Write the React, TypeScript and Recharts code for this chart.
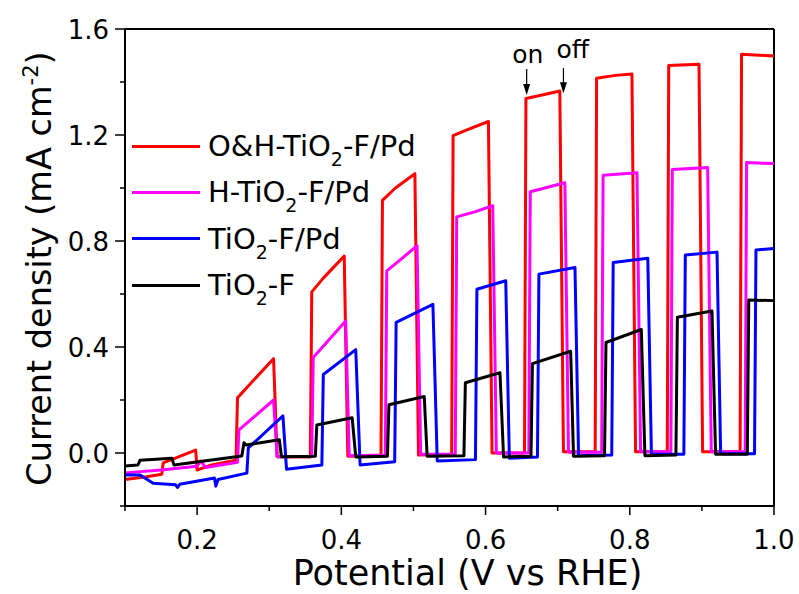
import React from 'react';
import { LineChart, Line, XAxis, YAxis, ReferenceLine, ReferenceDot } from 'recharts';

// chopped-light LSV
const ohX = [0.1, 0.13, 0.151, 0.153, 0.198, 0.2, 0.22, 0.254, 0.256, 0.27, 0.306, 0.311, 0.357, 0.359, 0.375, 0.404, 0.409, 0.455, 0.457, 0.475, 0.502, 0.507, 0.553, 0.555, 0.575, 0.604, 0.609, 0.654, 0.656, 0.68, 0.703, 0.708, 0.752, 0.754, 0.78, 0.803, 0.808, 0.852, 0.854, 0.896, 0.901, 0.953, 0.955, 1.0];
const ohY = [-0.1, -0.09, -0.08, -0.037, 0.011, -0.064, -0.045, -0.027, 0.208, 0.25, 0.356, -0.014, -0.015, 0.608, 0.66, 0.743, -0.012, -0.01, 0.953, 1.0, 1.054, -0.008, -0.005, 1.198, 1.22, 1.251, 0.0, 0.0, 1.338, 1.352, 1.366, 0.005, 0.005, 1.414, 1.425, 1.43, 0.005, 0.005, 1.462, 1.467, 0.005, 0.005, 1.505, 1.498];

const hX = [0.1, 0.15, 0.2, 0.205, 0.212, 0.256, 0.258, 0.306, 0.311, 0.359, 0.361, 0.406, 0.411, 0.461, 0.463, 0.48, 0.505, 0.51, 0.558, 0.56, 0.585, 0.61, 0.615, 0.66, 0.662, 0.71, 0.715, 0.761, 0.763, 0.81, 0.815, 0.857, 0.859, 0.908, 0.913, 0.96, 0.962, 1.0];
const hY = [-0.075, -0.064, -0.05, -0.03, -0.055, -0.035, 0.087, 0.2, -0.014, -0.012, 0.36, 0.498, -0.01, -0.008, 0.687, 0.725, 0.782, -0.005, -0.005, 0.891, 0.91, 0.933, 0.0, 0.0, 0.986, 1.02, 0.003, 0.003, 1.048, 1.058, 0.005, 0.005, 1.07, 1.077, 0.005, 0.005, 1.096, 1.092];

const pdX = [0.1, 0.121, 0.139, 0.17, 0.173, 0.176, 0.224, 0.226, 0.229, 0.269, 0.271, 0.319, 0.324, 0.373, 0.375, 0.42, 0.426, 0.474, 0.476, 0.527, 0.533, 0.586, 0.588, 0.628, 0.633, 0.672, 0.674, 0.724, 0.729, 0.775, 0.777, 0.825, 0.83, 0.875, 0.877, 0.921, 0.926, 0.973, 0.975, 1.0];
const pdY = [-0.083, -0.083, -0.114, -0.12, -0.13, -0.118, -0.094, -0.125, -0.1, -0.076, 0.019, 0.14, -0.061, -0.045, 0.296, 0.39, -0.045, -0.033, 0.493, 0.561, -0.03, -0.025, 0.618, 0.65, -0.02, -0.015, 0.675, 0.7, -0.01, -0.008, 0.719, 0.735, -0.005, -0.005, 0.747, 0.758, -0.003, -0.003, 0.766, 0.772];

const fX = [0.1, 0.118, 0.121, 0.165, 0.168, 0.262, 0.265, 0.268, 0.314, 0.317, 0.364, 0.366, 0.415, 0.42, 0.464, 0.466, 0.515, 0.519, 0.57, 0.572, 0.62, 0.625, 0.663, 0.665, 0.718, 0.722, 0.765, 0.767, 0.816, 0.821, 0.864, 0.866, 0.914, 0.919, 0.963, 0.965, 1.0];
const fY = [-0.049, -0.045, -0.027, -0.02, -0.045, -0.011, 0.039, 0.03, 0.05, -0.014, -0.012, 0.106, 0.133, -0.015, -0.012, 0.182, 0.213, -0.012, -0.01, 0.265, 0.303, -0.015, -0.012, 0.337, 0.384, -0.012, -0.01, 0.417, 0.466, -0.01, -0.008, 0.512, 0.536, -0.005, -0.005, 0.577, 0.575];

const seriesNames = ['O&H-TiO2-F/Pd', 'H-TiO2-F/Pd', 'TiO2-F/Pd', 'TiO2-F'];
const seriesColors = ['#ff0000', '#ff00ff', '#0000ff', '#000000'];

const xTicks = [0.1, 0.2, 0.3, 0.4, 0.5, 0.6, 0.7, 0.8, 0.9, 1.0];
const yTicks = [-0.2, 0, 0.2, 0.4, 0.6, 0.8, 1.0, 1.2, 1.4, 1.6];

// on / off arrows
const markLabels = ['on', 'off'];
const markX = [0.657, 0.708];
const markTop = [1.449, 1.453];
const markTip = [1.351, 1.358];
const labelX = [0.6585, 0.721];
const labelY = [1.47, 1.489];

const FONT = '"DejaVu Sans", Arial, sans-serif';

const toPoints = (xs: number[], ys: number[]) => xs.map((x, i) => ({ x, y: ys[i] }));
const allSeries = [toPoints(ohX, ohY), toPoints(hX, hY), toPoints(pdX, pdY), toPoints(fX, fY)];

const XTick = (props: any) => {
  const { x, y, payload } = props;
  const v = payload.value;
  const major = Math.round(v * 10) % 2 === 0;
  return (
    <g>
      <line x1={x} x2={x} y1={y} y2={y + (major ? 9 : 5)} stroke="#000" strokeWidth={1.5} />
      {major && (
        <text x={x} y={y + 43} textAnchor="middle" fontSize={26} fontFamily={FONT} fill="#000">
          {v.toFixed(1)}
        </text>
      )}
    </g>
  );
};

const YTick = (props: any) => {
  const { x, y, payload } = props;
  const v = payload.value;
  const major = Math.round(v * 10) % 4 === 0;
  return (
    <g>
      <line x1={x - (major ? 10 : 5)} x2={x} y1={y} y2={y} stroke="#000" strokeWidth={1.5} />
      {major && (
        <text x={x - 16} y={y + 9.5} textAnchor="end" fontSize={26} fontFamily={FONT} fill="#000">
          {v.toFixed(1)}
        </text>
      )}
    </g>
  );
};

const withSub = (name: string) => {
  const parts = name.split('TiO2');
  return parts.map((p, i) => (
    <React.Fragment key={i}>
      {p}
      {i < parts.length - 1 && (
        <>
          TiO<span style={{ fontSize: 19, position: 'relative', top: 10 }}>2</span>
        </>
      )}
    </React.Fragment>
  ));
};

const Arrow = (p: any) => {
  const { x1, y1, x2, y2 } = p;
  return (
    <g>
      <line x1={x1} y1={y1} x2={x2} y2={y2 - 9} stroke="#000" strokeWidth={1.2} />
      <polygon points={`${x2},${y2} ${x2 - 3.5},${y2 - 11} ${x2 + 3.5},${y2 - 11}`} fill="#000" />
    </g>
  );
};

export default function App() {
  return (
    <div style={{ position: 'relative', width: 799, height: 594, background: '#fff' }}>
      <style>{'body{margin:0}'}</style>
      <LineChart width={799} height={594} margin={{ top: 29, right: 25, bottom: 0, left: 0 }}>
        <XAxis
          type="number"
          dataKey="x"
          domain={[0.1, 1.0]}
          ticks={xTicks}
          interval={0}
          height={88}
          tickSize={0}
          tickMargin={0}
          tickLine={false}
          tick={<XTick />}
          axisLine={{ stroke: '#000', strokeWidth: 2 }}
          label={{
            content: (lp: any) => {
              const vb = lp.viewBox;
              return (
                <text x={vb.x + vb.width / 2 + 18} y={vb.y + 79} textAnchor="middle" fontSize={35} fontFamily={FONT} fill="#000">
                  Potential (V vs RHE)
                </text>
              );
            },
          }}
        />
        <YAxis
          type="number"
          domain={[-0.2, 1.6]}
          ticks={yTicks}
          interval={0}
          width={125}
          tickSize={0}
          tickMargin={0}
          tickLine={false}
          tick={<YTick />}
          axisLine={{ stroke: '#000', strokeWidth: 2 }}
          label={{
            content: (lp: any) => {
              const vb = lp.viewBox;
              const cx = 51;
              const cy = vb.y + vb.height / 2 + 1;
              return (
                <text x={cx} y={cy} transform={`rotate(-90, ${cx}, ${cy})`} textAnchor="middle" fontSize={33.5} fontFamily={FONT} fill="#000">
                  Current density (mA cm
                  <tspan fontSize={21} dy={-13}>-2</tspan>
                  <tspan dy={13}>)</tspan>
                </text>
              );
            },
          }}
        />
        <ReferenceLine y={1.6} stroke="#000" strokeWidth={2} />
        <ReferenceLine x={1.0} stroke="#000" strokeWidth={2} />
        {allSeries.map((d, i) => (
          <Line
            key={seriesNames[i]}
            data={d}
            dataKey="y"
            type="linear"
            stroke={seriesColors[i]}
            strokeWidth={3}
            strokeLinejoin="round"
            dot={false}
            isAnimationActive={false}
          />
        ))}
        {markLabels.map((t, i) => (
          <ReferenceLine
            key={`arr-${t}`}
            segment={[{ x: markX[i], y: markTop[i] }, { x: markX[i], y: markTip[i] }]}
            shape={Arrow}
          />
        ))}
        {markLabels.map((t, i) => (
          <ReferenceDot
            key={`lbl-${t}`}
            x={labelX[i]}
            y={labelY[i]}
            r={0}
            shape={(p: any) => (
              <text x={p.cx} y={p.cy} textAnchor="middle" fontSize={25} fontFamily={FONT} fill="#000">
                {t}
              </text>
            )}
          />
        ))}
      </LineChart>
      <div style={{ position: 'absolute', left: 132, top: 123, fontFamily: FONT, fontSize: 29, color: '#000' }}>
        {seriesNames.map((n, i) => (
          <div key={n} style={{ display: 'flex', alignItems: 'center', height: 46.3, whiteSpace: 'nowrap' }}>
            <div style={{ width: 68, height: 3, background: seriesColors[i], marginRight: 8 }} />
            <span>{withSub(n)}</span>
          </div>
        ))}
      </div>
    </div>
  );
}
